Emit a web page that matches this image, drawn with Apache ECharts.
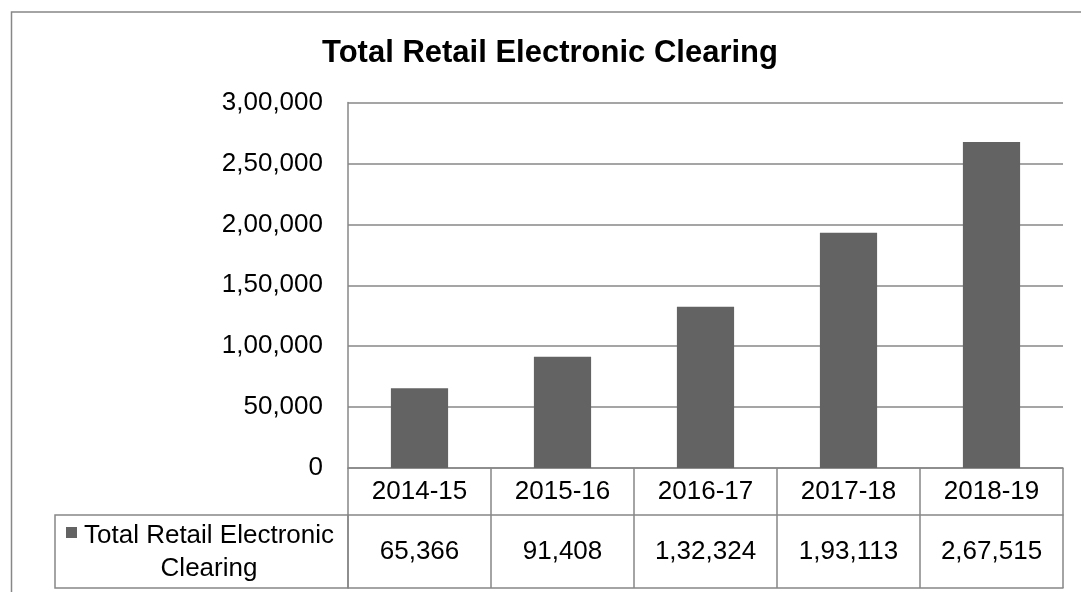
<!DOCTYPE html>
<html>
<head>
<meta charset="utf-8">
<style>
  html, body { margin: 0; padding: 0; background: #ffffff; }
  #chart { width: 1081px; height: 592px; }
</style>
<script src="https://cdn.jsdelivr.net/npm/echarts@6/dist/echarts.min.js"></script>
</head>
<body>
<div id="chart"></div>
<script>
// Chart data
const TITLE = 'Total Retail Electronic Clearing';
const SERIES_NAME = 'Total Retail Electronic Clearing';
const LEGEND_LINES = ['Total Retail Electronic', 'Clearing'];
const years = ['2014-15', '2015-16', '2016-17', '2017-18', '2018-19'];
const clearing = [65366, 91408, 132324, 193113, 267515];
const yTicks = { min: 0, max: 300000, interval: 50000 };

// Indian digit grouping: 1,32,324
function indianFormat(n) {
  const s = String(Math.round(n));
  if (s.length <= 3) return s;
  const last3 = s.slice(-3);
  let rest = s.slice(0, -3);
  const parts = [];
  while (rest.length > 2) {
    parts.unshift(rest.slice(-2));
    rest = rest.slice(0, -2);
  }
  if (rest.length) parts.unshift(rest);
  return parts.join(',') + ',' + last3;
}

const FONT = '"Liberation Sans", Arial, sans-serif';
const LINE = '#878787';
const BAR = '#636363';
const LABEL_SIZE = 26;

// Layout of plot area and data table beneath it
const W = 1081, H = 592;
const plot = { left: 348, right: 1063, top: 102.5, bottom: 468 };
const rowCat = 47;      // height of category row
const rowVal = 73;      // height of value row
const legendLeft = 55;

const chart = echarts.init(document.getElementById('chart'), null, { renderer: 'canvas' });

const catAxisBase = {
  type: 'category',
  data: years,
  position: 'bottom',
  boundaryGap: true,
  gridIndex: 0,
  splitLine: { show: false }
};

chart.setOption({
  animation: false,
  backgroundColor: '#ffffff',
  title: {
    text: TITLE,
    left: 550,
    top: 38,
    textAlign: 'center',
    padding: 0,
    textStyle: { fontFamily: FONT, fontSize: 31, fontWeight: 'bold', color: '#000', lineHeight: 31 }
  },
  grid: {
    left: plot.left,
    right: W - plot.right,
    top: plot.top,
    bottom: H - plot.bottom,
    containLabel: false
  },
  xAxis: [
    Object.assign({}, catAxisBase, {
      axisLine: { show: true, lineStyle: { color: LINE, width: 1.5 } },
      axisTick: { show: true, alignWithLabel: false, length: rowCat + rowVal, lineStyle: { color: LINE, width: 1.5 } },
      axisLabel: {
        show: true, margin: rowCat / 2, verticalAlign: 'middle',
        fontFamily: FONT, fontSize: LABEL_SIZE, color: '#000'
      }
    }),
    Object.assign({}, catAxisBase, {
      offset: rowCat,
      axisLine: { show: true, lineStyle: { color: LINE, width: 1.5 } },
      axisTick: { show: false },
      axisLabel: {
        show: true, margin: rowVal / 2, verticalAlign: 'middle', interval: 0,
        fontFamily: FONT, fontSize: LABEL_SIZE, color: '#000',
        formatter: (v, i) => indianFormat(clearing[i])
      }
    }),
    Object.assign({}, catAxisBase, {
      offset: rowCat + rowVal,
      axisLine: { show: true, lineStyle: { color: LINE, width: 1.5 } },
      axisTick: { show: false },
      axisLabel: { show: false }
    })
  ],
  yAxis: {
    type: 'value',
    min: yTicks.min,
    max: yTicks.max,
    interval: yTicks.interval,
    axisLine: { show: true, lineStyle: { color: LINE, width: 1.5 } },
    axisTick: { show: false },
    splitLine: { show: true, lineStyle: { color: LINE, width: 1.5 } },
    axisLabel: {
      margin: 25,
      padding: [3, 0, 0, 0],
      fontFamily: FONT, fontSize: LABEL_SIZE, color: '#000',
      formatter: v => indianFormat(v)
    }
  },
  series: [{
    name: SERIES_NAME,
    type: 'bar',
    xAxisIndex: 0,
    data: clearing,
    barWidth: '40%',
    itemStyle: { color: BAR },
    silent: true
  }],
  graphic: [
    // outer chart frame
    {
      type: 'rect', silent: true,
      shape: { x: 11.5, y: 12, width: W + 20, height: H + 20 },
      style: { fill: 'none', stroke: LINE, lineWidth: 1.5 }
    },
    // legend key cell of the data table
    {
      type: 'rect', silent: true,
      shape: { x: legendLeft, y: plot.bottom + rowCat, width: plot.left - legendLeft, height: rowVal },
      style: { fill: 'none', stroke: LINE, lineWidth: 1.5 }
    },
    {
      type: 'rect', silent: true,
      shape: { x: 66, y: 527, width: 11, height: 11 },
      style: { fill: BAR }
    },
    {
      type: 'text', silent: true,
      x: 209, y: plot.bottom + rowCat + rowVal / 2 + 1,
      style: {
        text: LEGEND_LINES.join('\n'),
        align: 'center', verticalAlign: 'middle',
        fontFamily: FONT, fontSize: LABEL_SIZE, lineHeight: 33, fill: '#000'
      }
    }
  ]
});
</script>
</body>
</html>
